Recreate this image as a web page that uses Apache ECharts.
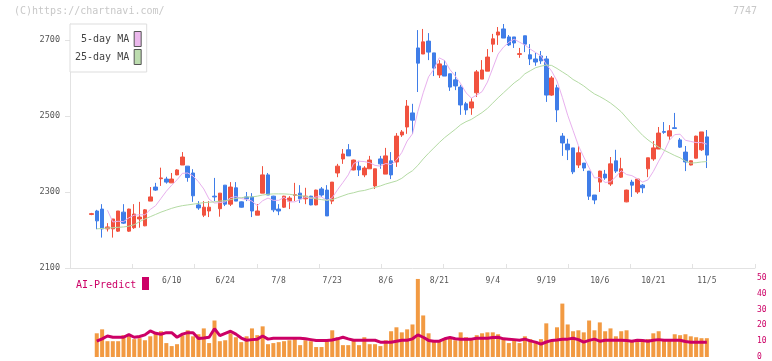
<!DOCTYPE html>
<html><head><meta charset="utf-8">
<script src="https://cdn.jsdelivr.net/npm/echarts@6/dist/echarts.min.js"></script>
<style>html,body{margin:0;padding:0;background:#fff}#c{width:772px;height:361px}</style>
</head><body><div id="c"></div>
<script>
const dates = ['5/20','5/21','5/22','5/23','5/26','5/27','5/28','5/29','5/30','6/2','6/3','6/4','6/5','6/6','6/9','6/10','6/11','6/12','6/13','6/16','6/17','6/18','6/19','6/20','6/23','6/24','6/25','6/26','6/27','6/30','7/1','7/2','7/3','7/4','7/7','7/8','7/9','7/10','7/11','7/14','7/15','7/16','7/17','7/18','7/22','7/23','7/24','7/25','7/28','7/29','7/30','7/31','8/1','8/4','8/5','8/6','8/7','8/8','8/12','8/13','8/14','8/15','8/18','8/19','8/20','8/21','8/22','8/25','8/26','8/27','8/28','8/29','9/1','9/2','9/3','9/4','9/5','9/8','9/9','9/10','9/11','9/12','9/16','9/17','9/18','9/19','9/22','9/24','9/25','9/26','9/29','9/30','10/1','10/2','10/3','10/6','10/7','10/8','10/9','10/10','10/14','10/15','10/16','10/17','10/20','10/21','10/22','10/23','10/24','10/27','10/28','10/29','10/30','10/31','11/4','11/5'];
const tickLabels = ['6/10','6/24','7/8','7/23','8/6','8/21','9/4','9/19','10/6','10/21','11/5'];
const priceTicks = [2100, 2300, 2500, 2700];
const volTicks = [0, 10, 20, 30, 40, 50];

const opens = [2241,2250,2255,2203,2203,2197,2247,2197,2206,2229,
 2211,2276,2313,2335,2334,2324,2345,2371,2368,2350,
 2266,2239,2250,2289,2256,2318,2268,2311,2274,2287,
 2287,2239,2297,2345,2289,2255,2260,2276,2291,2297,
 2282,2289,2266,2308,2305,2276,2350,2387,2411,2358,
 2368,2345,2361,2316,2387,2347,2382,2379,2450,2471,
 2508,2679,2663,2697,2666,2608,2632,2611,2595,2576,
 2532,2521,2561,2597,2618,2689,2713,2729,2708,2708,
 2662,2711,2661,2650,2658,2650,2555,2574,2447,2426,
 2416,2371,2376,2355,2292,2326,2347,2321,2382,2339,
 2274,2326,2300,2318,2361,2387,2413,2459,2447,2469,
 2437,2405,2371,2389,2411,2445];
const closes = [2243,2224,2203,2208,2229,2250,2218,2255,2242,2234,
 2253,2287,2305,2337,2326,2334,2358,2392,2338,2290,
 2258,2260,2260,2287,2297,2268,2313,2276,2260,2282,
 2250,2250,2345,2292,2253,2250,2289,2284,2293,2282,
 2289,2266,2305,2292,2237,2326,2368,2400,2395,2384,
 2358,2363,2384,2361,2374,2395,2345,2447,2458,2526,
 2489,2639,2695,2668,2626,2637,2605,2576,2579,2529,
 2516,2537,2616,2621,2655,2703,2721,2705,2687,2692,
 2664,2689,2650,2642,2645,2555,2600,2516,2429,2411,
 2353,2403,2363,2289,2279,2355,2337,2374,2355,2361,
 2305,2318,2334,2311,2390,2416,2455,2457,2461,2467,
 2418,2379,2382,2447,2458,2397];
const lows = [2239,2202,2180,2196,2180,2195,2216,2195,2203,2206,
 2210,2276,2303,2316,2322,2324,2344,2371,2327,2274,
 2253,2234,2234,2276,2235,2263,2263,2276,2259,2276,
 2234,2239,2297,2292,2247,2239,2258,2255,2276,2271,
 2268,2265,2265,2287,2237,2268,2339,2374,2395,2357,
 2342,2339,2361,2308,2361,2347,2334,2366,2445,2453,
 2453,2563,2663,2647,2605,2600,2605,2566,2568,2503,
 2503,2503,2550,2597,2618,2668,2687,2705,2684,2679,
 2653,2668,2634,2632,2637,2537,2553,2484,2395,2384,
 2347,2363,2355,2279,2268,2300,2332,2316,2350,2337,
 2273,2287,2295,2297,2339,2382,2413,2453,2437,2467,
 2416,2355,2370,2388,2408,2363];
const highs = [2245,2253,2268,2218,2229,2250,2268,2256,2268,2274,
 2255,2313,2324,2364,2340,2350,2360,2405,2368,2360,
 2276,2276,2276,2337,2297,2318,2326,2326,2275,2300,
 2297,2268,2368,2350,2290,2268,2290,2289,2324,2318,
 2311,2290,2306,2313,2318,2326,2374,2413,2426,2385,
 2382,2368,2395,2361,2395,2416,2405,2455,2463,2542,
 2532,2726,2729,2718,2666,2647,2647,2611,2616,2582,
 2537,2547,2621,2647,2676,2716,2734,2742,2713,2708,
 2679,2711,2689,2666,2671,2658,2605,2582,2455,2440,
 2416,2421,2376,2355,2292,2356,2358,2392,2411,2390,
 2306,2332,2334,2321,2390,2434,2471,2484,2476,2508,
 2442,2421,2383,2448,2458,2463];
const ma5 = [null,null,null,2252,2221,2223,2222,2232,2239,2240,
 2240,2254,2264,2283,2302,2318,2332,2349,2350,2342,
 2327,2308,2281,2271,2272,2274,2285,2288,2283,2280,
 2276,2264,2277,2284,2278,2278,2286,2274,2274,2280,
 2287,2283,2287,2287,2278,2285,2306,2325,2345,2375,
 2381,2380,2377,2370,2368,2375,2372,2384,2404,2434,
 2453,2512,2561,2603,2623,2653,2646,2622,2605,2585,
 2561,2547,2555,2564,2589,2626,2663,2681,2694,2702,
 2694,2687,2676,2667,2658,2636,2618,2592,2549,2502,
 2462,2422,2392,2364,2337,2338,2325,2327,2340,2356,
 2346,2343,2335,2326,2332,2354,2381,2406,2436,2451,
 2452,2436,2433,2430,2430,2426];
const ma25 = [null,2203,2204,2205,2206,2207,2208,2210,2214,2222,
 2229,2235,2241,2247,2252,2257,2261,2264,2266,2268,
 2270,2272,2273,2274,2276,2277,2280,2283,2285,2287,
 2287,2289,2292,2294,2295,2295,2295,2294,2292,2290,
 2289,2285,2282,2280,2278,2280,2285,2290,2295,2298,
 2302,2304,2308,2312,2316,2321,2325,2329,2336,2347,
 2356,2370,2387,2402,2416,2430,2443,2454,2465,2477,
 2485,2491,2500,2509,2520,2534,2548,2561,2574,2587,
 2597,2611,2619,2627,2631,2634,2633,2625,2616,2607,
 2596,2588,2579,2568,2558,2551,2543,2534,2523,2511,
 2495,2479,2464,2449,2437,2427,2418,2410,2403,2396,
 2390,2381,2376,2377,2379,2380];
const volume = [null,15,17.5,10,10,10,13.8,13.8,11.3,11.9,
 10.6,13.1,15.6,16.3,8.8,6.9,8.1,13.8,16.9,13.1,
 14.4,18.1,8.8,23.1,10,10.6,15,12.5,9.4,13.1,
 18.1,13.8,19.4,8.1,8.8,9.4,10,10.6,11.3,7.5,
 10.6,10,6.3,6.3,10,16.9,12.5,7.5,7.5,10.6,
 7.5,12.5,8.1,8.1,6.9,10.6,16.3,18.8,15.6,17.5,
 20.6,49.4,26.3,15,10,10,11.9,12.5,10.6,15.6,
 12.5,11.9,13.8,15,15.6,15.6,14.4,11.9,8.8,10.6,
 8.8,13.1,11.3,10,11.3,21.3,10,18.8,33.8,20.6,
 16.3,16.9,15.6,23.1,16.9,21.9,16.3,18.1,13.1,16.3,
 16.9,10,10.6,10,11.3,15,16.3,11.3,11.3,14.4,
 13.8,14.4,13.1,12.5,11.9,11.9];
const aiPredict = [null,10,11.5,13.3,12.5,12.5,12.5,14.2,12.5,13,
 14,16.5,15,14.4,15.4,15.4,12.5,14.5,15.4,15.4,
 11.7,12,12.5,17.9,13.5,15,16.3,14.5,12,10.6,
 11,11.3,13.3,11.3,11.9,11.9,11.9,11.9,11.9,11.9,
 11.5,11,10.4,10.4,10.4,10.8,11.5,12.5,11.5,10.6,
 10.6,10.6,10.6,10.6,9.4,9.4,9.4,10,10.6,10.6,
 11.5,14,12.5,10.5,10,10,11.5,12.3,11.5,11.3,
 11.3,11.3,11.9,11.9,11.9,12.3,12.5,11.5,11.3,11,
 10.6,11.3,10.2,9.4,8.1,9.5,10.5,10.8,11.3,11.3,
 11.9,11,9.4,10.5,11.3,10,10.6,10.6,10.6,10.6,
 10.4,10,10.6,10.4,10,10.6,11,10.6,10.6,10.6,
 10.6,9.8,9.4,9.4,9.4,9.4];

const PADL = 4, PADR = 9;
const cats = [];
for (let k = 0; k < PADL; k++) cats.push('pre' + k);
dates.forEach(d => cats.push(d));
for (let k = 0; k < PADR; k++) cats.push('post' + k);
const labelSet = new Set(tickLabels);
const xy = arr => arr.map((v, i) => v == null ? null : [i + PADL, v]).filter(Boolean);
const candles = dates.map((d, i) => [i + PADL, opens[i], closes[i], lows[i], highs[i]]);

const MONO = 'DejaVu Sans Mono, Liberation Mono, monospace';
const UP = '#f1523f', DOWN = '#3f7de8', AXIS = '#e2e2e2', MAG = '#cc0066';

const chart = echarts.init(document.getElementById('c'), null, {renderer: 'canvas'});
chart.setOption({
  animation: false,
  backgroundColor: '#fff',
  grid: [
    {left: 70, right: 17, top: 24, height: 244},
    {left: 70, right: 17, top: 278, height: 80}
  ],
  xAxis: [
    {type: 'category', gridIndex: 0, data: cats, boundaryGap: false, position: 'bottom',
     axisLine: {show: false}, axisTick: {show: false}, splitLine: {show: false},
     axisLabel: {interval: (idx, val) => labelSet.has(val), fontFamily: MONO, fontSize: 8, color: '#555', margin: 9}},
    {type: 'value', gridIndex: 0, min: 0, max: 11, interval: 1, position: 'bottom',
     axisLine: {show: true, lineStyle: {color: AXIS, width: 1}},
     axisTick: {show: true, inside: true, length: 4, lineStyle: {color: AXIS}},
     axisLabel: {show: false}, splitLine: {show: false}},
    {type: 'category', gridIndex: 1, data: cats, boundaryGap: false, show: false}
  ],
  yAxis: [
    {type: 'value', gridIndex: 0, min: 2100, max: 2742, interval: 200, position: 'left',
     axisLine: {show: true, lineStyle: {color: AXIS}},
     axisTick: {show: true, length: 5, lineStyle: {color: AXIS}, customValues: priceTicks},
     axisLabel: {fontFamily: MONO, fontSize: 8.5, color: '#555', margin: 10, customValues: priceTicks,
                 formatter: v => String(v)},
     splitLine: {show: false}},
    {type: 'value', gridIndex: 1, min: 0, max: 50, interval: 10, position: 'right',
     axisLine: {show: false}, axisTick: {show: false}, splitLine: {show: false},
     axisLabel: {fontFamily: MONO, fontSize: 8, color: MAG, margin: 2, customValues: volTicks,
                 formatter: v => String(v)}}
  ],
  legend: {
    orient: 'vertical', left: 70, top: 24, align: 'right', icon: 'rect',
    itemWidth: 7, itemHeight: 15, itemGap: 2, padding: [7, 5, 7, 5],
    borderColor: '#dddddd', borderWidth: 1, backgroundColor: '#fff', selectedMode: false,
    textStyle: {fontFamily: MONO, fontSize: 10, color: '#444'},
    data: [
      {name: '5-day MA', itemStyle: {color: '#ebb8ec', borderColor: '#555', borderWidth: 1}},
      {name: '25-day MA', itemStyle: {color: '#bcdcae', borderColor: '#555', borderWidth: 1}}
    ]
  },
  graphic: [
    {type: 'text', left: 14, top: 6, style: {text: '(C)https://chartnavi.com/', font: '10px ' + MONO, fill: '#c8c8c8'}},
    {type: 'text', right: 15, top: 6, style: {text: '7747', font: '10px ' + MONO, fill: '#c8c8c8'}},
    {type: 'text', left: 76, top: 280, style: {text: 'AI-Predict', font: '10px ' + MONO, fill: MAG}},
    {type: 'rect', left: 142, top: 277, shape: {width: 7, height: 13}, style: {fill: MAG}}
  ],
  series: [
    {name: 'price', type: 'candlestick', xAxisIndex: 0, yAxisIndex: 0, data: candles,
     encode: {x: 0, y: [1, 2, 3, 4]}, barWidth: 4,
     itemStyle: {color: UP, color0: DOWN, borderColor: UP, borderColor0: DOWN, borderWidth: 1}},
    {name: '5-day MA', type: 'line', xAxisIndex: 0, yAxisIndex: 0, data: xy(ma5), symbol: 'none',
     lineStyle: {color: '#e8b0ee', width: 1}, itemStyle: {color: '#ebb8ec'}, z: 3},
    {name: '25-day MA', type: 'line', xAxisIndex: 0, yAxisIndex: 0, data: xy(ma25), symbol: 'none',
     lineStyle: {color: '#b4dba4', width: 1}, itemStyle: {color: '#bcdcae'}, z: 3},
    {name: 'volume', type: 'bar', xAxisIndex: 2, yAxisIndex: 1, data: xy(volume), barWidth: 4,
     itemStyle: {color: '#f29a42'}},
    {name: 'AI-Predict', type: 'line', xAxisIndex: 2, yAxisIndex: 1, data: xy(aiPredict), symbol: 'none',
     lineStyle: {color: MAG, width: 3}, z: 4}
  ]
});
</script></body></html>
